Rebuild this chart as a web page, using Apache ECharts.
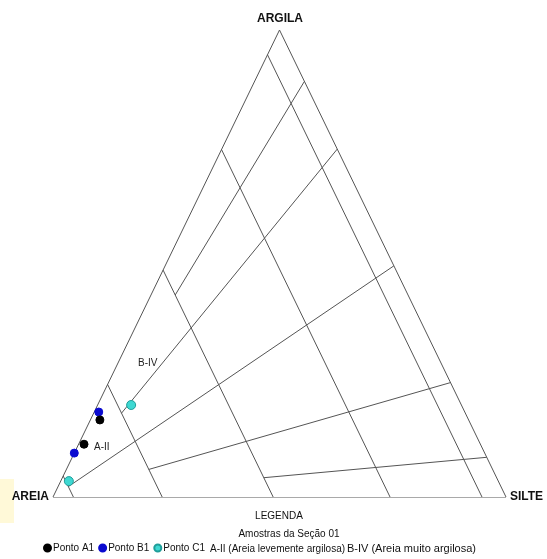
<!DOCTYPE html>
<html><head><meta charset="utf-8">
<script src="https://cdn.jsdelivr.net/npm/echarts@6/dist/echarts.min.js"></script>
<style>html,body{margin:0;padding:0;background:#fff}#c{width:547px;height:559px}</style>
</head><body><div id="c"></div>
<script>
// Ternary values are [areia (sand), silte (silt), argila (clay)] in %
const vertexLabels = ['ARGILA', 'AREIA', 'SILTE'];
const sandBoundaries = [5.3, 25.6, 51.4, 75.9, 95.5];          // constant-sand lines
const siltShareBoundaries = [11, 25.5, 50.5, 75.5, 91.5];      // silt/(silt+clay) %
const siltShareEndSand = [51.4, 75.9, 95.5, 75.9, 51.4];       // sand boundary where each ends
const seriesNames = ['Ponto A1', 'Ponto B1', 'Ponto C1'];
const pontoA1 = [[81.4, 2.1, 16.5], [87.5, 1.2, 11.3]];
const pontoB1 = [[80.8, 1.0, 18.2], [90.6, 0.0, 9.4]];
const pontoC1 = [[72.9, 7.4, 19.7], [94.8, 1.8, 3.4]];
const classLabels = ['A-II', 'B-IV'];
const legendTitle = 'LEGENDA';
const legendSubtitle = 'Amostras da Seção 01';
const legendNotes = ['A-II (Areia levemente argilosa)', 'B-IV (Areia muito argilosa)'];

function proj(p) { return [p[1] + p[2] / 2, p[2]]; }

const segs = [];
// triangle outline
segs.push([[0, 0, 100], [100, 0, 0]]);
segs.push([[0, 0, 100], [0, 100, 0]]);
segs.push([[100, 0, 0], [0, 100, 0]]);
sandBoundaries.forEach(s => segs.push([[s, 0, 100 - s], [s, 100 - s, 0]]));
siltShareBoundaries.forEach((r, i) => {
  const s = siltShareEndSand[i];
  segs.push([[0, r, 100 - r], [s, (100 - s) * r / 100, (100 - s) * (1 - r / 100)]]);
});

const chart = echarts.init(document.getElementById('c'), null, {renderer: 'canvas'});
const font = '"Liberation Sans", Arial, sans-serif';
const colors = ['#000000', '#0a0ad0', '#3ed8d2'];
const borders = ['#000000', '#0a0ad0', '#1f9e9a'];
const sizes = [8, 8, 9];
const pts = [pontoA1, pontoB1, pontoC1];

chart.setOption({
  animation: false,
  backgroundColor: '#fff',
  grid: {left: 53, top: 30, width: 453, height: 467},
  xAxis: {type: 'value', min: 0, max: 100, show: false},
  yAxis: {type: 'value', min: 0, max: 100, show: false},
  legend: {
    data: seriesNames.map((n, i) => ({name: n, icon: 'circle', itemStyle: {color: colors[i]}})),
    left: 43, top: 543, itemWidth: 7, itemHeight: 7, itemGap: 4, padding: 0,
    textStyle: {fontFamily: font, fontSize: 10, color: '#111', padding: [0, 0, 0, -3]}
  },
  series: [
    {
      type: 'lines', coordinateSystem: 'cartesian2d', silent: true, z: 1,
      lineStyle: {color: '#555', width: 1, opacity: 1},
      data: segs.map(s => ({coords: [proj(s[0]), proj(s[1])]}))
    },
    ...pts.map((d, i) => ({
      name: seriesNames[i], type: 'scatter', symbol: 'circle', symbolSize: sizes[i],
      z: i === 0 ? 5 : (i === 1 ? 4 : 3),
      itemStyle: {color: colors[i], borderColor: borders[i], borderWidth: 1, opacity: 1},
      data: d.map(proj)
    }))
  ],
  graphic: [
    {type: 'rect', shape: {x: 0, y: 479, width: 14, height: 44}, style: {fill: '#fff9d8'}, z: -1},
    {type: 'text', x: 280, y: 19, style: {text: vertexLabels[0], font: 'bold 12px ' + font, fill: '#111', align: 'center', verticalAlign: 'middle'}},
    {type: 'text', x: 49, y: 497, style: {text: vertexLabels[1], font: 'bold 12px ' + font, fill: '#111', align: 'right', verticalAlign: 'middle'}},
    {type: 'text', x: 510, y: 497, style: {text: vertexLabels[2], font: 'bold 12px ' + font, fill: '#111', align: 'left', verticalAlign: 'middle'}},
    {type: 'text', x: 94, y: 447, style: {text: classLabels[0], font: '10px ' + font, fill: '#222', align: 'left', verticalAlign: 'middle'}},
    {type: 'text', x: 138, y: 363, style: {text: classLabels[1], font: '10px ' + font, fill: '#222', align: 'left', verticalAlign: 'middle'}},
    {type: 'text', x: 279, y: 516, style: {text: legendTitle, font: '10px ' + font, fill: '#111', align: 'center', verticalAlign: 'middle'}},
    {type: 'text', x: 289, y: 534, style: {text: legendSubtitle, font: '10px ' + font, fill: '#111', align: 'center', verticalAlign: 'middle'}},
    {type: 'text', x: 210, y: 549, style: {text: legendNotes[0], font: '10px ' + font, fill: '#111', align: 'left', verticalAlign: 'middle'}},
    {type: 'text', x: 347, y: 549, style: {text: legendNotes[1], font: '11px ' + font, fill: '#111', align: 'left', verticalAlign: 'middle'}}
  ]
});
</script>
</body></html>
